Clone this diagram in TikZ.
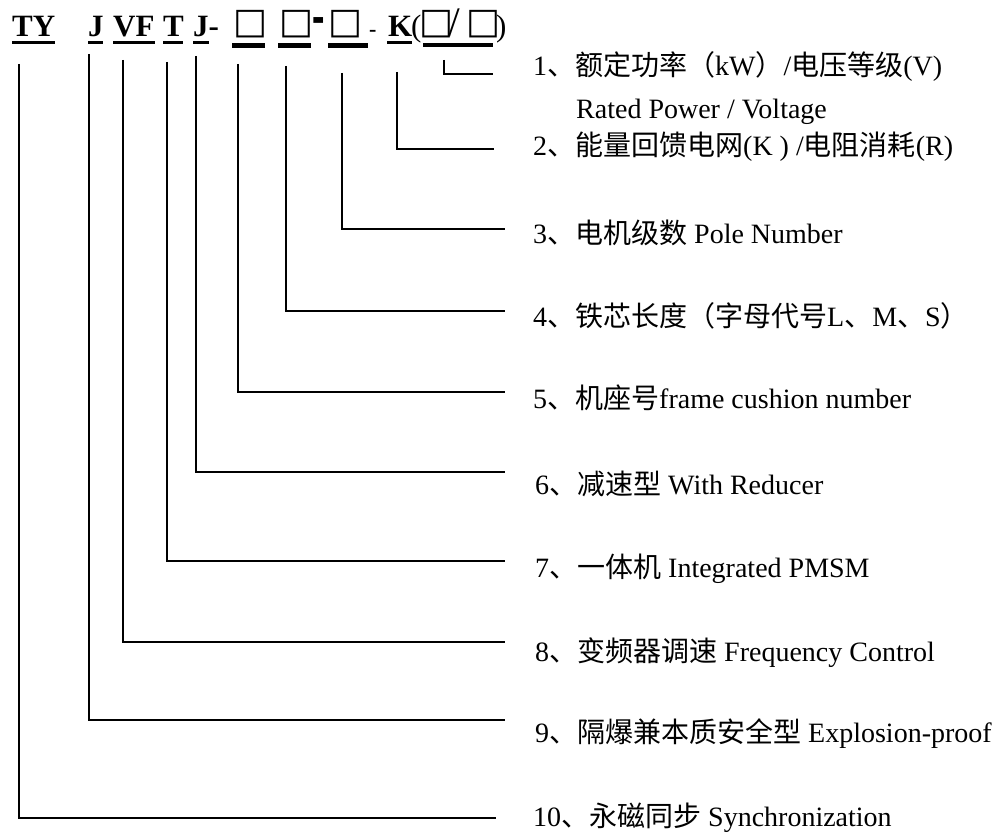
\documentclass[tikz,border=0pt]{standalone}
\usepackage{graphicx}
\usepackage{fontspec}
\setmainfont{Liberation Serif}
\newfontfamily\zhfont{Noto Sans CJK SC}
\newfontfamily\boxfont{DejaVu Sans}
\newcommand{\zhtxt}[1]{{\zhfont #1}}
\begin{document}
\begin{tikzpicture}[x=1pt,y=-1pt,
  hdr/.style={inner sep=0pt, anchor=base west, font=\fontsize{31}{31}\selectfont\bfseries},
  thin/.style={inner sep=0pt, anchor=base west, font=\fontsize{31}{31}\selectfont},
  sq/.style={inner sep=0pt, anchor=base west, font=\fontsize{36}{36}\boxfont},
  lbl/.style={inner sep=0pt, anchor=base west, font=\fontsize{28}{32}\selectfont},
  conn/.style={line width=1.1pt},
  ul/.style={line width=3pt},
  ulb/.style={line width=4.5pt}]
\useasboundingbox (0,0) rectangle (1005,834);

% ---- header code ----
\node[hdr] (ty) at (12,37) {TY};
\node[hdr] (j1) at (88,37) {J};
\node[hdr] (vf) at (113,37) {VF};
\node[hdr] (tt) at (163,37) {T};
\node[hdr] (j2) at (193,37) {J-};
\node[sq]  (b1) at (233,34) {□};
\node[sq]  (b2) at (279,34) {□};
\node[hdr] (d1) at (312,37) {\scalebox{1.2}[2.2]{-}};
\node[sq]  (b3) at (328,34) {□};
\node[hdr] (d2) at (369,37) {\fontsize{22}{22}\selectfont -};
\node[hdr] (kk) at (388,37) {K};
\node[thin] (lp) at (411,37) {(};
\node[sq]  (b4) at (419,34) {□};
\node[thin] (sl) at (448,37) {\fontsize{42}{42}\selectfont /};
\node[sq]  (b5) at (466,34) {□};
\node[thin] (rp) at (496,37) {)};

% underlines
\draw[ul] (12,42.5) -- (55,42.5);
\draw[ul] (88,42.5) -- (103,42.5);
\draw[ul] (113,42.5) -- (155,42.5);
\draw[ul] (163,42.5) -- (183,42.5);
\draw[ul] (193,42.5) -- (209,42.5);
\draw[ulb] (232,45.5) -- (265,45.5);
\draw[ulb] (278,45.5) -- (311,45.5);
\draw[ulb] (328,45.5) -- (368,45.5);
\draw[ul] (387,42.5) -- (412,42.5);
\draw[ulb] (423,45) -- (493,45);

% ---- labels ----
\node[lbl] (l1) at (533,76) {1\zhtxt{、额定功率（}kW\zhtxt{）}/\zhtxt{电压等级}(V)};
\node[lbl] (l1b) at (576,119) {Rated Power / Voltage};
\node[lbl] (l2) at (533,156) {2\zhtxt{、能量回馈电网}(K ) /\zhtxt{电阻消耗}(R)};
\node[lbl] (l3) at (533,244) {3\zhtxt{、电机级数} Pole Number};
\node[lbl] (l4) at (533,327) {4\zhtxt{、铁芯长度（字母代号}L\zhtxt{、}M\zhtxt{、}S\zhtxt{）}};
\node[lbl] (l5) at (533,409) {5\zhtxt{、机座号}frame cushion number};
\node[lbl] (l6) at (535,494) {6\zhtxt{、减速型} With Reducer};
\node[lbl] (l7) at (535,577) {7\zhtxt{、一体机} Integrated PMSM};
\node[lbl] (l8) at (535,661) {8\zhtxt{、变频器调速} Frequency Control};
\node[lbl] (l9) at (535,742) {9\zhtxt{、隔爆兼本质安全型} Explosion-proof};
\node[lbl] (l10) at (533,826) {10\zhtxt{、永磁同步} Synchronization};

% ---- connector points ----
\coordinate (s1) at (444,60);  \coordinate (e1) at (493,74);
\coordinate (s2) at (397,72);  \coordinate (e2) at (494,149);
\coordinate (s3) at (342,73);  \coordinate (e3) at (505,229);
\coordinate (s4) at (286,66);  \coordinate (e4) at (505,311);
\coordinate (s5) at (238,64);  \coordinate (e5) at (505,392);
\coordinate (s6) at (196,56);  \coordinate (e6) at (505,472);
\coordinate (s7) at (167,62);  \coordinate (e7) at (505,561);
\coordinate (s8) at (123,60);  \coordinate (e8) at (505,642);
\coordinate (s9) at (89,54);   \coordinate (e9) at (505,720);
\coordinate (s10) at (19,64);  \coordinate (e10) at (496,818);

\foreach \i in {1,...,10} {
  \draw[conn] (s\i) |- (e\i);
}
\end{tikzpicture}
\end{document}
